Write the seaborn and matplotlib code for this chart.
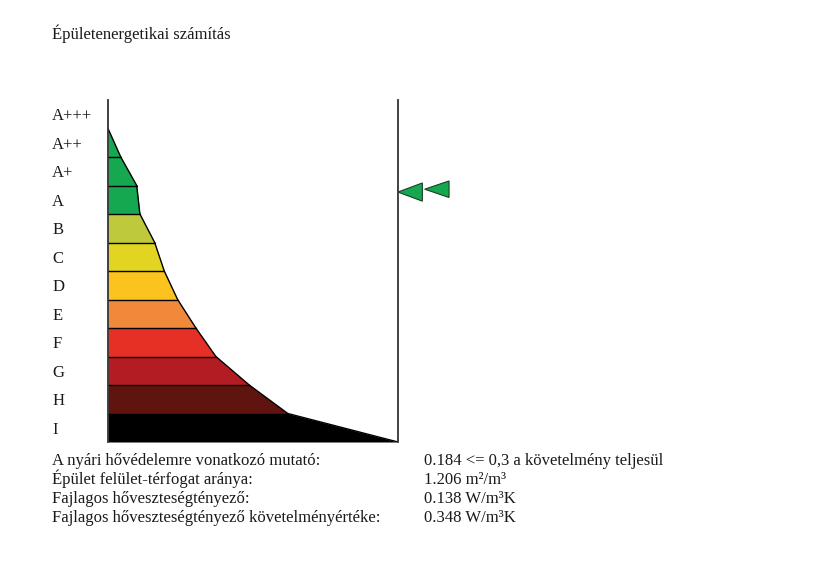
import numpy as np
import matplotlib
matplotlib.use("Agg")
from matplotlib import pyplot as plt
from matplotlib.patches import Polygon
import seaborn as sns

# energy classes, top to bottom
classes = ["A+++", "A++", "A+", "A", "B", "C", "D", "E", "F", "G", "H", "I"]
# width of the stepped shape at the lower edge of each class (0-100 scale)
edge_width = [0.0, 4.4, 9.9, 11.0, 16.1, 19.4, 24.0, 30.3, 37.2, 48.7, 62.0, 100.0]
class_colors = ["#ffffff", "#16a751", "#16a751", "#16a751", "#bec93c", "#e1d522",
                "#fcc21e", "#f08a3a", "#e63026", "#b41c23", "#5f140f", "#000000"]
# indicator arrows: (x of tip, position on class scale)
arrow_x = [100.0, 109.2]
arrow_y = [3.23, 3.13]

labels_left = [
    "A nyári hővédelemre vonatkozó mutató:",
    "Épület felület-térfogat aránya:",
    "Fajlagos hőveszteségtényező:",
    "Fajlagos hőveszteségtényező követelményértéke:",
]
labels_right = [
    "0.184 <= 0,3 a követelmény teljesül",
    "1.206 m²/m³",
    "0.138 W/m³K",
    "0.348 W/m³K",
]
title = "Épületenergetikai számítás"

sns.set_theme(style="white")
plt.rcParams["font.family"] = ["Liberation Serif", "DejaVu Serif"]

W, H = 824, 563
fig = plt.figure(figsize=(W / 100, H / 100), dpi=100)
fig.patch.set_facecolor("white")

left_px, right_px, top_px, bottom_px = 108, 398, 100, 442
ax = fig.add_axes([left_px / W, 1 - bottom_px / H, (right_px - left_px) / W, (bottom_px - top_px) / H])
ax.set_xlim(0, 100)
ax.set_ylim(len(classes), 0)

palette = sns.color_palette(class_colors)
prev_w = 0.0
for i, (cls, w) in enumerate(zip(classes, edge_width)):
    if i == 0:
        prev_w = w
        continue
    ax.fill_betweenx([i, i + 1], 0, [prev_w, w], color=palette[i], linewidth=0)
    ax.plot([prev_w, w], [i, i + 1], color="black", lw=1.0)
    if i > 1:
        ax.plot([0, prev_w], [i, i], color="black", lw=1.0)
    prev_w = w

ax.set_yticks(np.arange(len(classes)) + 0.5)
ax.set_yticklabels(classes, ha="left", fontsize=12, color="#1a1a1a")
ax.tick_params(axis="y", length=0, pad=40.3)
ax.set_xticks([])
for s in ["top", "bottom"]:
    ax.spines[s].set_visible(False)
for s in ["left", "right"]:
    ax.spines[s].set_visible(True)
    ax.spines[s].set_color("#333333")
    ax.spines[s].set_linewidth(1.3)

# indicator triangles
tri_w = 8.4
tri_h = [0.32, 0.29]
for x, y, h in zip(arrow_x, arrow_y, tri_h):
    tri = Polygon([[x, y], [x + tri_w, y - h], [x + tri_w, y + h]],
                  closed=True, facecolor="#16a751", edgecolor="#1c3d22",
                  linewidth=0.8, clip_on=False)
    ax.add_patch(tri)

fig.text(52 / W, 1 - 39 / H, title, fontsize=12, color="#1a1a1a", va="baseline")
for k, (a, b) in enumerate(zip(labels_left, labels_right)):
    y = 1 - (465 + 19 * k) / H
    fig.text(52 / W, y, a, fontsize=12, color="#1a1a1a", va="baseline")
    fig.text(424 / W, y, b, fontsize=12, color="#1a1a1a", va="baseline")

fig.savefig("out.png", dpi=100, facecolor="white")
